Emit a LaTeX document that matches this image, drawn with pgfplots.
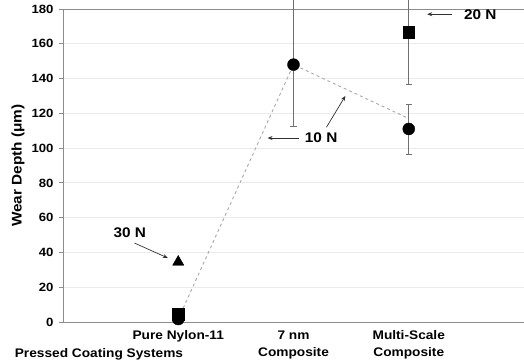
\documentclass[border=0pt]{standalone}
\usepackage{fontspec}
\setmainfont[FakeStretch=1.1]{Liberation Sans}
\usepackage{pgfplots}
\pgfplotsset{compat=1.18}
\usetikzlibrary{arrows.meta}
\definecolor{gridc}{HTML}{EBEBEB}
\definecolor{axc}{HTML}{8C8C8C}
\definecolor{errc}{HTML}{707070}
\definecolor{dashc}{HTML}{A8A8A8}
\definecolor{arrc}{HTML}{303030}
\begin{document}
\begin{tikzpicture}
\begin{axis}[
  at={(0,0)}, anchor=south west,
  scale only axis, width=461bp, height=313bp,
  xmin=0, xmax=4, ymin=0, ymax=180,
  xtick={1,2,3},
  xticklabels={{Pure Nylon-11},{7 nm\\Composite},{Multi-Scale\\Composite}},
  x tick label style={align=center, font=\bfseries\fontsize{12.5}{17}\selectfont, yshift=-1bp},
  ytick={0,20,...,180},
  y tick label style={font=\bfseries\fontsize{12}{12}\selectfont, xshift=-2bp},
  /pgf/number format/assume math mode=true,
  ymajorgrids, grid style={gridc, line width=0.8bp},
  axis line style={draw=none},
  tick align=outside,
  x tick style={draw=none},
  y tick style={axc, line width=0.8bp},
  major tick length=4bp,
  every axis y label/.style={at={(axis description cs:-0.0976,0.5)}, rotate=90, anchor=center, font=\bfseries\fontsize{14}{14}\selectfont},
  ylabel={Wear Depth (μm)},
  clip=false,
]
\draw[axc, line width=0.8bp] (rel axis cs:0,1) -- (rel axis cs:0,0) -- (rel axis cs:1,0);
\draw[axc, line width=0.8bp] (rel axis cs:0,1) -- (rel axis cs:1,1);
% dashed connector
\addplot[dashc, dashed, line width=0.9bp, forget plot] coordinates {(1,1.7) (2,148) (3,117)};
% error bars (gray)
\addplot[draw=none, mark=none,
  error bars/.cd, y dir=both, y explicit,
  error bar style={errc, line width=0.8bp},
  error mark options={rotate=90, mark size=3bp, errc, line width=0.8bp}]
  table[x=x, y=y, y error plus=ep, y error minus=em] {
  x y ep em
  2 148 42 35.5
  3 166.5 23.5 30
  3 111 14 14.5
  };
% markers
\addplot[only marks, mark=*, mark size=6bp, black] coordinates {(1,1.7) (2,148) (3,111)};
\addplot[only marks, mark=square*, mark size=5.8bp, black] coordinates {(1,4.6) (3,166.5)};
\addplot[only marks, mark=triangle*, mark size=6.5bp, black] coordinates {(1,34.5)};
% annotations
\node[font=\bfseries\fontsize{14}{14}\selectfont] at (axis cs:0.58,51.2) {30 N};
\draw[arrc, line width=0.7bp, -{Stealth[length=5bp,width=4bp]}] (axis cs:0.62,45.4) -- (axis cs:0.91,36.8);
\node[font=\bfseries\fontsize{14}{14}\selectfont] at (axis cs:2.24,105.8) {10 N};
\draw[arrc, line width=0.7bp, -{Stealth[length=5bp,width=4bp]}] (axis cs:2.05,105.8) -- (axis cs:1.775,105.8);
\draw[arrc, line width=0.7bp, -{Stealth[length=5bp,width=4bp]}] (axis cs:2.286,112) -- (axis cs:2.45,130);
\node[font=\bfseries\fontsize{14}{14}\selectfont] at (axis cs:3.62,177) {20 N};
\draw[arrc, line width=0.7bp, -{Stealth[length=5bp,width=4bp]}] (axis cs:3.377,177) -- (axis cs:3.16,177);
\node[font=\bfseries\fontsize{12.5}{12.5}\selectfont, anchor=center] at (axis description cs:0.078,-0.102) {Pressed Coating Systems};
\end{axis}
\pgfresetboundingbox
\useasboundingbox (-63bp,-42bp) rectangle (461bp,322bp);
\end{tikzpicture}
\end{document}
